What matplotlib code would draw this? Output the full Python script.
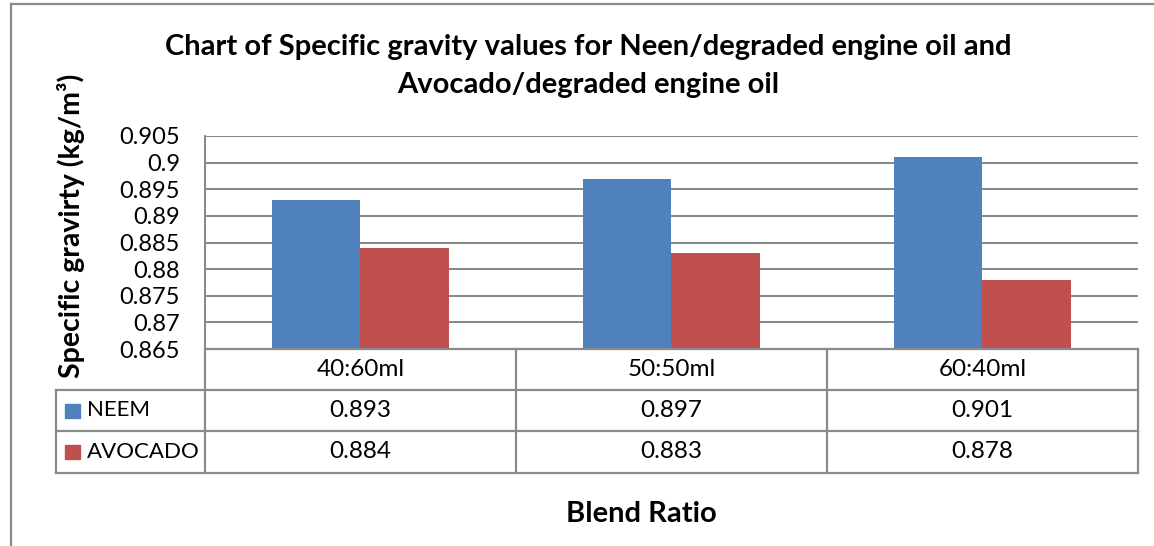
import matplotlib
matplotlib.use('Agg')
import matplotlib.pyplot as plt
import numpy as np
from matplotlib.lines import Line2D
from matplotlib.patches import Rectangle

# chart data
ratios = ['40:60ml', '50:50ml', '60:40ml']
neem = [0.893, 0.897, 0.901]
avocado = [0.884, 0.883, 0.878]
series_names = ['NEEM', 'AVOCADO']
yticks = [0.865, 0.87, 0.875, 0.88, 0.885, 0.89, 0.895, 0.9, 0.905]
ytick_labels = ['0.865', '0.87', '0.875', '0.88', '0.885', '0.89', '0.895', '0.9', '0.905']

BLUE = '#4F81BD'
RED = '#C0504D'
GRID = '#868686'
FONT = 'Lato'

W, H = 1154, 546
fig = plt.figure(figsize=(W / 100, H / 100), dpi=100)
plt.rcParams['font.family'] = FONT


def fx(px):
    return px / W


def fy(py):
    return 1 - py / H


# plot area in pixel coords
left, right, top, bottom = 205, 1138, 136, 349
ax = fig.add_axes([fx(left), fy(bottom), fx(right - left), fy(top) - fy(bottom)])

x = np.arange(len(ratios))
bw = 0.284
ax.bar(x - bw / 2, neem, bw, color=BLUE, zorder=3)
ax.bar(x + bw / 2, avocado, bw, color=RED, zorder=3)
ax.set_xlim(-0.5, len(ratios) - 0.5)
ax.set_ylim(0.865, 0.905)
ax.set_yticks(yticks)
ax.set_yticklabels(ytick_labels, fontsize=17)
ax.set_xticks([])
ax.tick_params(axis='y', length=0, pad=18)
ax.yaxis.grid(True, color=GRID, linewidth=1.4)
for s in ['top', 'right', 'bottom']:
    ax.spines[s].set_visible(False)
ax.spines['left'].set_color(GRID)
ax.spines['left'].set_linewidth(1.4)


def hline(x0, x1, y, lw=1.6):
    fig.add_artist(Line2D([fx(x0), fx(x1)], [fy(y), fy(y)], color='#8a8a8a', lw=lw))


def vline(xp, y0, y1, lw=1.6):
    fig.add_artist(Line2D([fx(xp), fx(xp)], [fy(y0), fy(y1)], color='#8a8a8a', lw=lw))


# data table below the plot
cols = [205, 516, 827, 1138]
rows = [349, 390, 431, 473]
tab_left = 56
hline(left, right, rows[0])
for r in rows[1:]:
    hline(tab_left, right, r)
for c in cols:
    vline(c, rows[0], rows[3])
vline(tab_left, rows[1], rows[3])

TS = 17.5
for i, lab in enumerate(ratios):
    cx = (cols[i] + cols[i + 1]) / 2
    fig.text(fx(cx), fy((rows[0] + rows[1]) / 2), lab, ha='center', va='center', fontsize=TS)
    fig.text(fx(cx), fy((rows[1] + rows[2]) / 2), f'{neem[i]:g}', ha='center', va='center', fontsize=TS)
    fig.text(fx(cx), fy((rows[2] + rows[3]) / 2), f'{avocado[i]:g}', ha='center', va='center', fontsize=TS)

for j, (name, col) in enumerate(zip(series_names, [BLUE, RED])):
    cy = (rows[1 + j] + rows[2 + j]) / 2
    fig.add_artist(Rectangle((fx(65), fy(cy + 7)), fx(15), fy(cy - 7) - fy(cy + 7), color=col))
    fig.text(fx(87), fy(cy), name, ha='left', va='center', fontsize=16)

# title
fig.text(fx(588), fy(47), 'Chart of Specific gravity values for Neen/degraded engine oil and',
         ha='center', va='center', fontsize=21, fontweight='bold')
fig.text(fx(588), fy(85), 'Avocado/degraded engine oil',
         ha='center', va='center', fontsize=21, fontweight='bold')

# x label
fig.text(fx(641), fy(514), 'Blend Ratio', ha='center', va='center', fontsize=21, fontweight='bold')

# y label
fig.text(fx(80), fy(226), 'Specific gravirty (kg/m\u00b3)', rotation=90, rotation_mode='anchor',
         ha='center', va='baseline', fontsize=20.5, fontweight='bold')

# outer chart frame
fig.add_artist(Line2D([fx(11), fx(11)], [fy(4), 0], color='#8a8a8a', lw=1.6))
fig.add_artist(Line2D([fx(11), 1], [fy(4), fy(4)], color='#8a8a8a', lw=1.6))

fig.savefig('out.png', dpi=100)
